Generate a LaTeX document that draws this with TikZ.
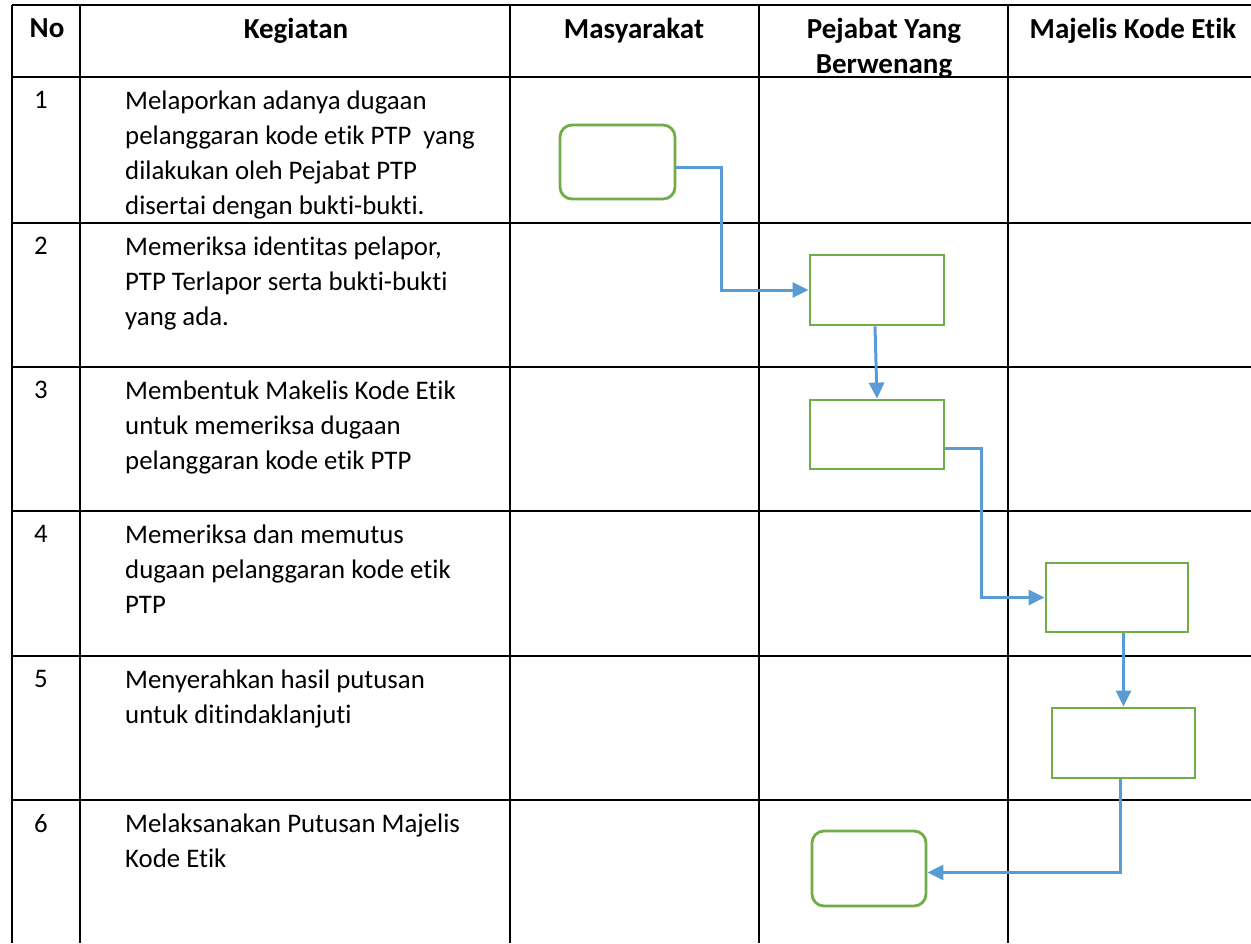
\documentclass[tikz,border=0pt]{standalone}
\usepackage{fontspec}
\setmainfont{Carlito}[Ligatures=NoCommon]
\usetikzlibrary{arrows.meta,calc}
\definecolor{boxgreen}{HTML}{70AD47}
\definecolor{arrowblue}{HTML}{5B9BD5}
\begin{document}
\begin{tikzpicture}[x=1pt,y=-1pt,
  gridline/.style={line width=2.3pt, black},
  procbox/.style={draw=boxgreen, line width=2.8pt, inner sep=0pt},
  termbox/.style={procbox, rounded corners=12pt},
  flow/.style={draw=arrowblue, line width=3pt, -{Triangle[length=16pt,width=15pt]}},
  celltext/.style={anchor=north west, inner sep=0pt, align=left, font=\fontsize{26.8}{35}\selectfont},
  headtext/.style={anchor=north, inner sep=0pt, align=center, font=\bfseries\fontsize{29}{35}\selectfont}]
\useasboundingbox (0,0) rectangle (1251,943);
% table grid
\foreach \yy in {5,77,223,367,511,656,800}
  \draw[gridline] (12,\yy) -- (1251,\yy);
\foreach \xx in {12,80,510,759,1008}
  \draw[gridline] (\xx,5) -- (\xx,943);
% headers
\node[headtext] (hno) at (47,18) {No};
\node[headtext] (hkeg) at (296,18) {Kegiatan};
\node[headtext] (hmas) at (634,18) {Masyarakat};
\node[headtext] (hpej) at (884,18) {Pejabat Yang\\Berwenang};
\node[headtext] (hmaj) at (1133,18) {Majelis Kode Etik};
% numbers
\node[celltext] (n1) at (34,91) {1};
\node[celltext] (n2) at (34,237) {2};
\node[celltext] (n3) at (34,381) {3};
\node[celltext] (n4) at (34,525) {4};
\node[celltext] (n5) at (34,670) {5};
\node[celltext] (n6) at (34,814) {6};
% activities
\node[celltext] (k1) at (125,91) {Melaporkan adanya dugaan\\pelanggaran kode etik PTP~ yang\\dilakukan oleh Pejabat PTP\\disertai dengan bukti-bukti.};
\node[celltext] (k2) at (125,237) {Memeriksa identitas pelapor,\\PTP Terlapor serta bukti-bukti\\yang ada.};
\node[celltext] (k3) at (125,381) {Membentuk Makelis Kode Etik\\untuk memeriksa dugaan\\pelanggaran kode etik PTP};
\node[celltext] (k4) at (125,525) {Memeriksa dan memutus\\dugaan pelanggaran kode etik\\PTP};
\node[celltext] (k5) at (125,670) {Menyerahkan hasil putusan\\untuk ditindaklanjuti};
\node[celltext] (k6) at (125,814) {Melaksanakan Putusan Majelis\\Kode Etik};
% flow boxes
\node[termbox, minimum width=115pt, minimum height=74pt] (b1) at (617.5,162) {};
\node[procbox, minimum width=134pt, minimum height=70pt] (b2) at (877,290) {};
\node[procbox, minimum width=134pt, minimum height=69pt] (b3) at (877,434.5) {};
\node[procbox, minimum width=142pt, minimum height=69pt] (b4) at (1117,597.5) {};
\node[procbox, minimum width=143pt, minimum height=70pt] (b5) at (1123.5,743) {};
\node[termbox, minimum width=114pt, minimum height=75pt] (b6) at (869,868.5) {};
% connectors
\coordinate (j1) at (721,230);
\coordinate (j3) at (981,520);
\coordinate (s1) at ($(b1.north east)!0.57!(b1.south east)$);
\coordinate (s3) at ($(b3.north east)!0.7!(b3.south east)$);
\draw[flow] (s1) -| (j1) |- (b2.west);
\draw[flow] ([xshift=-2pt]b2.south) -- (b3.north);
\draw[flow] (s3) -| (j3) |- (b4.west);
\draw[flow] (b5.north |- b4.south) -- (b5.north);
\draw[flow] ([xshift=-3pt]b5.south) |- ([yshift=-4pt]b6.east);
\end{tikzpicture}
\end{document}
